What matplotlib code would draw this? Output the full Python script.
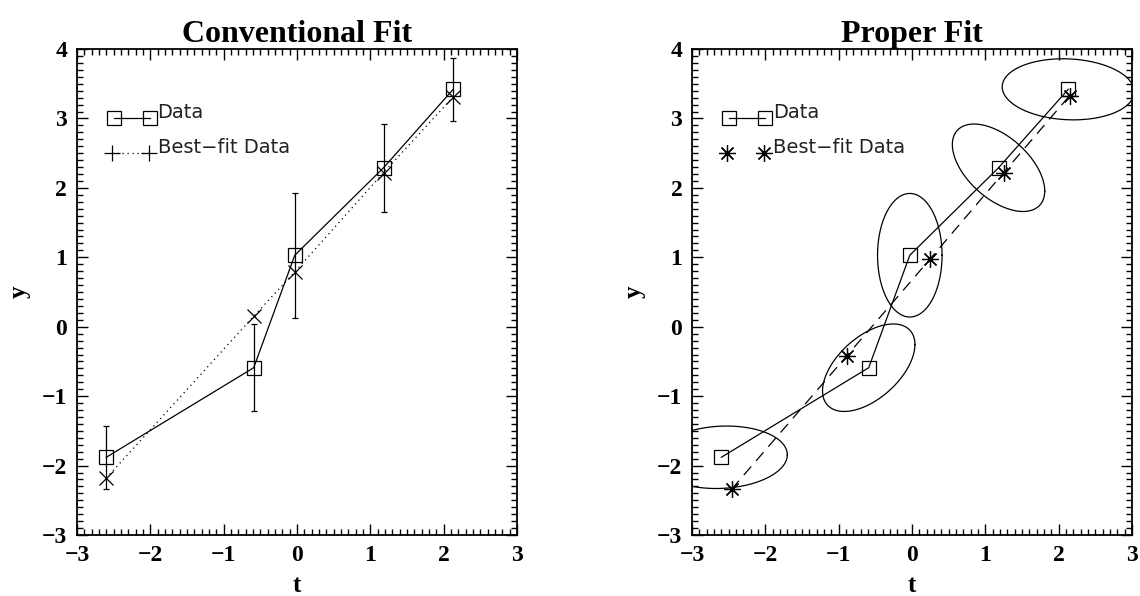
import numpy as np
import matplotlib
matplotlib.use('Agg')
import matplotlib.pyplot as plt
from matplotlib.ticker import MultipleLocator

# measured data (same in both panels)
t_data = [-2.60, -0.59, -0.03, 1.18, 2.13]
y_data = [-1.88, -0.59, 1.03, 2.29, 3.42]
y_err = [0.45, 0.63, 0.90, 0.63, 0.45]

# conventional best fit (only y adjusted)
y_fit_conv = [-2.18, 0.15, 0.79, 2.22, 3.31]

# proper best fit (t and y adjusted)
t_fit_prop = [-2.46, -0.89, 0.25, 1.25, 2.15]
y_fit_prop = [-2.34, -0.42, 0.98, 2.22, 3.33]

# error ellipses: sigma_t, sigma_y, correlation
sig_t = [0.90, 0.63, 0.44, 0.63, 0.90]
sig_y = [0.45, 0.63, 0.89, 0.63, 0.44]
rho = [0.08, 0.53, 0.0, -0.53, -0.08]

SERIF = ['Liberation Serif', 'DejaVu Serif']
HERSHEY = 'DejaVu Sans'
LW = 0.9


def style_axes(ax, title):
    ax.set_xlim(-3, 3)
    ax.set_ylim(-3, 4)
    ax.xaxis.set_major_locator(MultipleLocator(1))
    ax.yaxis.set_major_locator(MultipleLocator(1))
    ax.xaxis.set_minor_locator(MultipleLocator(0.1))
    ax.yaxis.set_minor_locator(MultipleLocator(0.1))
    ax.tick_params(which='both', direction='in', top=True, right=True,
                   width=1.0, colors='black')
    ax.tick_params(which='major', length=8, labelsize=17, pad=7)
    ax.tick_params(which='minor', length=4)
    for lab in ax.get_xticklabels() + ax.get_yticklabels():
        lab.set_fontfamily(SERIF)
        lab.set_fontweight('bold')
    for sp in ax.spines.values():
        sp.set_linewidth(1.3)
    ax.set_xlabel('t', fontfamily=SERIF, fontweight='bold', fontsize=18, labelpad=6)
    ax.set_ylabel('y', fontfamily=SERIF, fontweight='bold', fontsize=18, labelpad=8,
                  rotation=90)
    ax.set_title(title, fontfamily=SERIF, fontweight='bold', fontsize=23, pad=2)


def legend_entries(ax, fit_marker, fit_ls, fit_ms):
    ax.plot([-2.5, -2.0], [3.0, 3.0], '-', color='black', lw=LW,
            marker='s', ms=9.5, mfc='none', mec='black', mew=LW)
    ax.text(-1.9, 3.0, 'Data', fontfamily=HERSHEY, fontsize=14, va='baseline',
            color='#222222')
    ax.plot([-2.52, -2.02], [2.5, 2.5], color='black', lw=LW, ls=fit_ls,
            marker=fit_marker, ms=fit_ms, mec='black', mew=LW)
    ax.text(-1.9, 2.5, 'Best\u2212fit Data', fontfamily=HERSHEY, fontsize=14,
            va='baseline', color='#222222')


fig = plt.figure(figsize=(11.4, 5.96), dpi=100)

# left panel: conventional fit
ax1 = fig.add_axes([0.0675, 0.1023, 0.386, 0.8154])
ax1.errorbar(t_data, y_data, yerr=y_err, fmt='none', ecolor='black',
             elinewidth=LW, capsize=2, capthick=LW)
ax1.plot(t_data, y_data, '-', color='black', lw=LW, marker='s', ms=9.5,
         mfc='none', mec='black', mew=LW)
ax1.plot(t_data, y_fit_conv, ls=(0, (1, 3)), color='black', lw=LW,
         marker='x', ms=10, mec='black', mew=LW)
legend_entries(ax1, '+', (0, (1, 3)), 12)
style_axes(ax1, 'Conventional Fit')

# right panel: proper fit
ax2 = fig.add_axes([0.607, 0.1023, 0.386, 0.8154])
theta = np.linspace(0, 2 * np.pi, 300)
for tc, yc, st, sy, r in zip(t_data, y_data, sig_t, sig_y, rho):
    ex = tc + st * np.cos(theta)
    ey = yc + sy * (r * np.cos(theta) + np.sqrt(1 - r ** 2) * np.sin(theta))
    ax2.plot(ex, ey, '-', color='black', lw=LW)
ax2.plot(t_data, y_data, '-', color='black', lw=LW, marker='s', ms=9.5,
         mfc='none', mec='black', mew=LW)
ax2.plot(t_fit_prop, y_fit_prop, ls=(0, (9, 6)), color='black', lw=LW,
         marker=(8, 2, 0), ms=12, mec='black', mew=LW)
legend_entries(ax2, (8, 2, 0), 'none', 12)
style_axes(ax2, 'Proper Fit')

fig.savefig('out.png', dpi=100)
